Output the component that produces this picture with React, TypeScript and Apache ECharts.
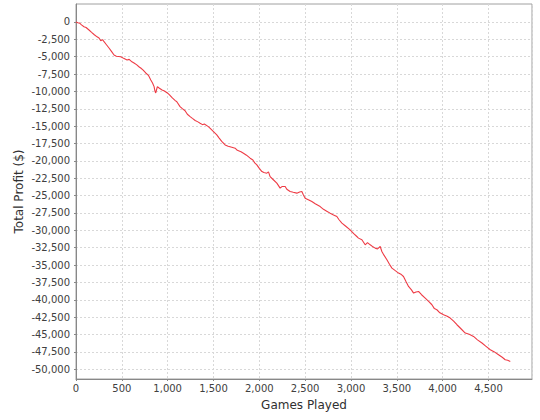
import React, { useEffect, useRef } from "react";
import * as echarts from "echarts";

const games: number[] = [
  0, 20, 40, 60, 87, 110, 142, 170, 200, 230, 251, 270, 290, 306, 330, 360, 385, 415, 440, 488,
  520, 557, 580, 610, 633, 660, 690, 706, 730, 761, 790, 816, 835, 852, 862, 870, 880, 888, 910, 939,
  965, 997, 1020, 1051, 1080, 1100, 1135, 1160, 1190, 1215, 1245, 1270, 1300, 1330, 1354, 1380, 1400, 1444, 1470, 1500,
  1536, 1560, 1590, 1627, 1660, 1700, 1736, 1760, 1800, 1827, 1860, 1900, 1930, 1950, 1973, 2000, 2028, 2050, 2082, 2100,
  2118, 2150, 2191, 2227, 2250, 2282, 2300, 2336, 2370, 2409, 2440, 2464, 2480, 2500, 2540, 2573, 2610, 2664, 2700, 2740,
  2773, 2810, 2846, 2870, 2901, 2940, 2991, 3030, 3064, 3082, 3119, 3155, 3180, 3210, 3240, 3264, 3290, 3319, 3337, 3360,
  3392, 3420, 3447, 3480, 3519, 3550, 3573, 3600, 3628, 3660, 3683, 3710, 3737, 3770, 3810, 3850, 3883, 3910, 3937, 3970,
  4010, 4050, 4083, 4120, 4156, 4200, 4247, 4290, 4337, 4380, 4429, 4470, 4520, 4560, 4610, 4650, 4683, 4710, 4738,
];

const profit: number[] = [
  0, -120, -180, -420, -690, -800, -1166, -1500, -1850, -2150, -2317, -2700, -2550, -2850, -3250, -3757, -4200, -4764, -4950, -5009,
  -5250, -5484, -5400, -5750, -5916, -6150, -6500, -6635, -6900, -7355, -7700, -8362, -8800, -9326, -10000, -10233, -9700, -9326, -9550, -9801,
  -9950, -10233, -10500, -10953, -11300, -11500, -12205, -12500, -12800, -13300, -13644, -13900, -14200, -14400, -14594, -14800, -14700, -15084, -15400, -15800,
  -16278, -16700, -17200, -17717, -17900, -18050, -18192, -18500, -18700, -18912, -19200, -19631, -19900, -20300, -20596, -21100, -21560, -21700, -21791, -21600,
  -22280, -22700, -23230, -23950, -23700, -23719, -24100, -24439, -24550, -24669, -24500, -24439, -24900, -25389, -25650, -25878, -26200, -26598, -27000, -27300,
  -27548, -27800, -28037, -28500, -28987, -29400, -29951, -30500, -30915, -31146, -31390, -32110, -31800, -32110, -32400, -32585, -32700, -32355, -33074, -33600,
  -34269, -34900, -35464, -35800, -36183, -36400, -36672, -37400, -38112, -38600, -39062, -38900, -38832, -39300, -39781, -40300, -40745, -41300, -41465, -41900,
  -42185, -42400, -42660, -43100, -43624, -44200, -44819, -45000, -45308, -45800, -46258, -46700, -47222, -47500, -47942, -48300, -48661, -48750, -48906,
];

const xTitle = "Games Played";
const yTitle = "Total Profit ($)";

const FONT = "'DejaVu Sans', sans-serif";

export default function App() {
  const ref = useRef<HTMLDivElement>(null);
  useEffect(() => {
    if (!ref.current) return;
    const chart = echarts.init(ref.current, undefined, { renderer: "svg" });
    const fmt = (v: number) => v.toLocaleString("en-US");
    const data = games.map((g, i) => [g, profit[i]]);
    chart.setOption({
      animation: false,
      backgroundColor: "#ffffff",
      textStyle: { fontFamily: FONT },
      grid: [
        {
          left: 76,
          right: 8,
          top: 4,
          bottom: 41,
          show: true,
          backgroundColor: "transparent",
          borderColor: "#a0a0a0",
          borderWidth: 1,
        },
        { left: 76, right: 8, top: 21.9, bottom: 50.7, show: false },
      ],
      xAxis: [
        {
          type: "value",
          gridIndex: 0,
          min: 0,
          max: 4975,
          interval: 500,
          name: xTitle,
          nameLocation: "middle",
          nameGap: 20,
          nameTextStyle: { fontFamily: FONT, fontSize: 12, color: "#303030" },
          axisLine: { show: true, onZero: false, lineStyle: { color: "#888888", width: 1 } },
          axisTick: { show: true, length: 2, lineStyle: { color: "#888888" } },
          axisLabel: {
            fontFamily: FONT,
            fontSize: 10,
            color: "#404040",
            margin: 4,
            formatter: fmt,
            showMaxLabel: false,
          },
          splitLine: {
            show: true,
            lineStyle: { color: "#d8d8d8", type: [2, 2], width: 1 },
          },
        },
        {
          type: "value",
          gridIndex: 1,
          min: 0,
          max: 1,
          show: false,
        },
      ],
      yAxis: [
        {
          type: "value",
          gridIndex: 0,
          min: -51440,
          max: 2580,
          name: yTitle,
          nameLocation: "middle",
          nameGap: 51,
          nameRotate: 90,
          nameTextStyle: { fontFamily: FONT, fontSize: 12, color: "#303030" },
          axisLine: { show: true, onZero: false, lineStyle: { color: "#888888", width: 1 } },
          axisTick: { show: false },
          axisLabel: { show: false },
          splitLine: { show: false },
        },
        {
          type: "value",
          gridIndex: 1,
          min: -50000,
          max: 0,
          interval: 2500,
          axisLine: { show: false, onZero: false },
          axisTick: { show: true, length: 2, lineStyle: { color: "#888888" } },
          axisLabel: {
            fontFamily: FONT,
            fontSize: 10,
            color: "#404040",
            margin: 6,
            formatter: fmt,
          },
          splitLine: {
            show: true,
            lineStyle: { color: "#d8d8d8", type: [2, 2], width: 1 },
          },
        },
      ],
      series: [
        {
          type: "line",
          xAxisIndex: 0,
          yAxisIndex: 0,
          data,
          showSymbol: false,
          symbol: "none",
          lineStyle: { color: "#ee3b45", width: 1.1 },
          z: 5,
        },
      ],
    });
    return () => chart.dispose();
  }, []);
  return (
    <div
      ref={ref}
      style={{ position: "fixed", left: 0, top: 0, width: 540, height: 420, background: "#fff" }}
    />
  );
}
